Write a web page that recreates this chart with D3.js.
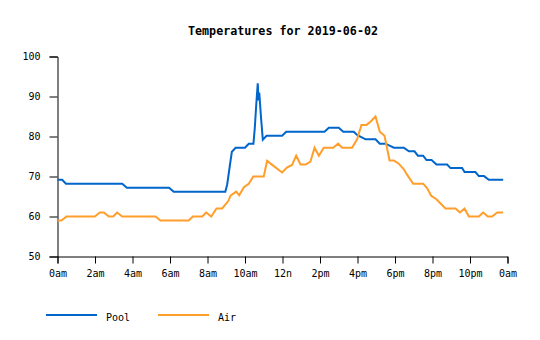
<!DOCTYPE html>
<html><head><meta charset="utf-8">
<script src="https://cdn.jsdelivr.net/npm/d3@7"></script>
<style>
body{margin:0;background:#fff;}
svg{display:block;}
text{font-family:"DejaVu Sans Mono","Liberation Mono",monospace;}
</style></head>
<body>
<script>
const title = "Temperatures for 2019-06-02";
const seriesNames = ["Pool", "Air"];
const seriesColors = ["#0066cc", "#ff9e2a"];
const xTickHours = [0,2,4,6,8,10,12,14,16,18,20,22,24];
const xTickLabels = ["0am","2am","4am","6am","8am","10am","12n","2pm","4pm","6pm","8pm","10pm","0am"];
const yTicks = [50,60,70,80,90,100];

// [hour, temperature]
const pool = [
 [0,69.2],[0.25,69.2],[0.45,68.2],[3.45,68.2],[3.7,67.2],[5.95,67.2],[6.2,66.2],[8.95,66.2],
 [9.05,68],[9.2,73],[9.3,76.2],[9.5,77.2],[10.0,77.2],[10.2,78.2],[10.45,78.2],[10.52,82],
 [10.6,88],[10.68,93.3],[10.72,89],[10.76,91],[10.85,85],[10.95,79.2],[11.15,80.2],
 [11.98,80.2],[12.2,81.2],[14.24,81.2],[14.47,82.2],[15.0,82.2],[15.24,81.2],[15.8,81.2],
 [15.98,80.4],[16.43,79.3],[16.96,79.3],[17.19,78.2],[17.49,78.2],[17.94,77.2],[18.47,77.2],
 [18.74,76.3],[19.04,76.3],[19.22,75.2],[19.5,75.2],[19.68,74.1],[19.95,74.1],[20.21,73.0],
 [20.78,73.0],[20.96,72.1],[21.58,72.1],[21.71,71.1],[22.29,71.1],[22.47,70.1],[22.75,70.1],
 [23.0,69.2],[23.77,69.2]
];
const air = [
 [0,59],[0.21,59],[0.48,60],[1.99,60],[2.26,61],[2.47,61],[2.74,60],[2.97,60],[3.18,61],
 [3.45,60],[5.23,60],[5.49,59],[7.0,59],[7.22,60],[7.72,60],[7.93,61],[8.2,60],[8.48,62],
 [8.78,62],[9.1,63.8],[9.23,65.2],[9.4,65.8],[9.53,66.2],[9.69,65.3],[9.94,67.3],[10.2,68.2],
 [10.44,70],[11.0,70],[11.18,73.9],[11.45,72.9],[11.98,71],[12.25,72.3],[12.51,72.9],
 [12.73,75.2],[12.96,73],[13.23,73],[13.49,73.7],[13.71,77.2],[13.94,75.2],[14.2,77.2],
 [14.7,77.2],[14.97,78.2],[15.18,77.2],[15.71,77.2],[15.98,79.3],[16.21,82.9],[16.48,82.9],
 [16.69,83.7],[16.96,85],[17.19,81.2],[17.44,80.2],[17.71,74],[17.94,74],[18.2,73.2],
 [18.47,71.8],[18.65,70.4],[18.97,68.2],[19.5,68.2],[19.71,67.1],[19.93,65.2],[20.21,64.3],
 [20.69,62],[21.23,62],[21.46,61],[21.71,62],[21.94,60],[22.47,60],[22.7,61],[22.95,60],
 [23.18,60],[23.45,61],[23.77,61]
];

const W = 540, H = 340;
const svg = d3.select("body").append("svg").attr("width", W).attr("height", H);

const x = d3.scaleLinear().domain([0,24]).range([57.5, 507.5]);
const y = d3.scaleLinear().domain([50,100]).range([256.5, 56.5]);

svg.append("text").attr("x", 283).attr("y", 35).attr("text-anchor","middle")
  .attr("font-size", 11.7).attr("font-weight","bold").text(title);

const xAxis = svg.append("g").attr("transform", `translate(0,${y(50)})`)
  .call(d3.axisBottom(x).tickValues(xTickHours).tickSize(7).tickPadding(6)
    .tickFormat((d,i)=>xTickLabels[i]));
const yAxis = svg.append("g").attr("transform", `translate(${x(0)},0)`)
  .call(d3.axisLeft(y).tickValues(yTicks).tickSize(8).tickPadding(9));
[xAxis, yAxis].forEach(g=>{
  g.selectAll("text").attr("font-family",'"DejaVu Sans Mono",monospace').attr("font-size",10).attr("fill","#000");
  g.selectAll("line,path").attr("stroke","#000");
});

const line = d3.line().x(d=>x(d[0])).y(d=>y(d[1]));
[pool, air].forEach((s,i)=>{
  svg.append("path").datum(s).attr("d", line).attr("fill","none")
    .attr("stroke", seriesColors[i]).attr("stroke-width", 2);
});

// legend
const legX = [46, 158];
seriesNames.forEach((n,i)=>{
  svg.append("line").attr("x1", legX[i]).attr("x2", legX[i]+51).attr("y1",315).attr("y2",315)
    .attr("stroke", seriesColors[i]).attr("stroke-width",2);
  svg.append("text").attr("x", legX[i]+60).attr("y", 320.5).attr("font-size",10).text(n);
});
</script>
</body></html>
